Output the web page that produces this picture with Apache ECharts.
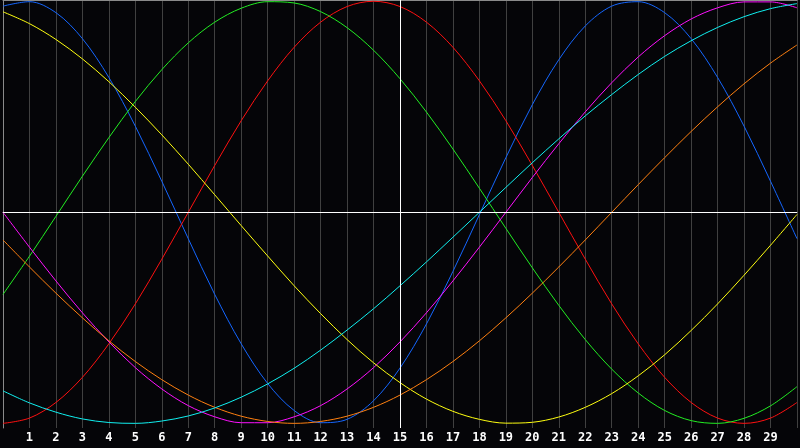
<!DOCTYPE html>
<html>
<head>
<meta charset="utf-8">
<script src="https://cdn.jsdelivr.net/npm/echarts@6/dist/echarts.min.js"></script>
<style>
html,body{margin:0;padding:0;background:#050508;}
#chart{width:800px;height:448px;}
</style>
</head>
<body>
<div id="chart"></div>
<script>
const days = [0,1,2,3,4,5,6,7,8,9,10,11,12,13,14,15,16,17,18,19,20,21,22,23,24,25,26,27,28,29,30];
const tickLabels = ['1','2','3','4','5','6','7','8','9','10','11','12','13','14','15','16','17','18','19','20','21','22','23','24','25','26','27','28','29'];

const physical = [97.7,99.8,94.6,82.3,63.9,40.8,14.7,-12.5,-38.9,-62.3,-81.1,-93.9,-99.7,-98.1,-89.3,-73.8,-52.9,-28.0,-1.1,25.9,51.0,72.3,88.3,97.7,99.8,94.6,82.3,63.9,40.8,14.7,-12.5];
const emotional = [-100,-97.5,-90.1,-78.2,-62.3,-43.4,-22.2,0,22.2,43.4,62.3,78.2,90.1,97.5,100,97.5,90.1,78.2,62.3,43.4,22.2,0,-22.2,-43.4,-62.3,-78.2,-90.1,-97.5,-100,-97.5,-90.1];
const intellectual = [-38.9,-20.8,-1.9,17.1,35.4,52.5,67.6,80.3,90.1,96.7,99.8,99.2,95.1,87.5,76.8,63.3,47.5,30.0,11.4,-7.6,-26.3,-44.1,-60.3,-74.3,-85.6,-93.9,-98.7,-100.0,-97.6,-91.7,-82.6];
const intuitive = [0,-16.5,-32.5,-47.6,-61.4,-73.6,-83.7,-91.6,-96.9,-99.7,-99.7,-96.9,-91.6,-83.7,-73.6,-61.4,-47.6,-32.5,-16.5,0,16.5,32.5,47.6,61.4,73.6,83.7,91.6,96.9,99.7,99.7,96.9];
const aesthetic = [95.0,89.4,81.9,72.7,61.9,49.8,36.7,22.8,8.3,-6.3,-20.7,-34.8,-48.0,-60.3,-71.3,-80.7,-88.5,-94.3,-98.1,-99.9,-99.5,-97.0,-92.4,-85.9,-77.5,-67.5,-56.0,-43.4,-29.8,-15.6,-1.0];
const awareness = [-13.1,-25.9,-38.3,-50.0,-60.9,-70.7,-79.3,-86.6,-92.4,-96.6,-99.1,-100,-99.1,-96.6,-92.4,-86.6,-79.3,-70.7,-60.9,-50.0,-38.3,-25.9,-13.1,0,13.1,25.9,38.3,50.0,60.9,70.7,79.3];
const spiritual = [-84.6,-90.3,-94.7,-97.9,-99.6,-100.0,-98.9,-96.5,-92.7,-87.6,-81.3,-73.9,-65.3,-55.8,-45.7,-34.8,-23.5,-11.8,0,11.8,23.5,34.8,45.7,55.8,65.3,73.9,81.3,87.6,92.7,96.5,98.9];

const seriesDefs = [
  {name:'Physical', data: physical, color:'#1466ff'},
  {name:'Emotional', data: emotional, color:'#ff1010'},
  {name:'Intellectual', data: intellectual, color:'#22ee22'},
  {name:'Intuitive', data: intuitive, color:'#ff10ff'},
  {name:'Aesthetic', data: aesthetic, color:'#ffff10'},
  {name:'Awareness', data: awareness, color:'#ff8010'},
  {name:'Spiritual', data: spiritual, color:'#10f0f0'}
];

const chart = echarts.init(document.getElementById('chart'));
const series = seriesDefs.map((s) => ({
  name: s.name,
  type: 'line',
  smooth: 0.33,
  showSymbol: false,
  animation: false,
  silent: true,
  data: days.map((d, k) => [d, s.data[k]]),
  lineStyle: {width: 1, color: s.color},
  itemStyle: {color: s.color},
  z: 3
}));
series.push({
  type: 'line',
  data: [],
  silent: true,
  animation: false,
  markLine: {
    symbol: 'none',
    silent: true,
    animation: false,
    label: {show: false},
    lineStyle: {color: '#ffffff', width: 1, type: 'solid'},
    data: [{xAxis: 15}, {yAxis: 0}]
  },
  z: 2
});

chart.setOption({
  backgroundColor: '#050508',
  animation: false,
  grid: {left: 0, right: 0, top: 0, bottom: 20, containLabel: false},
  xAxis: [{
    type: 'value',
    min: 0,
    max: 30,
    interval: 1,
    axisLine: {show: true, lineStyle: {color: '#a0a0a0', width: 1}},
    axisTick: {show: false},
    splitLine: {show: true, lineStyle: {color: '#404040', width: 1}},
    axisLabel: {
      color: '#ffffff',
      fontFamily: 'DejaVu Sans Mono',
      fontWeight: 'bold',
      fontSize: 12,
      margin: 4,
      formatter: function (v) {
        const idx = tickLabels.indexOf(String(v));
        return idx >= 0 ? tickLabels[idx] : '';
      }
    }
  }, {
    type: 'value',
    position: 'top',
    min: 0,
    max: 30,
    axisLine: {show: true, lineStyle: {color: '#8a8a8a', width: 1}},
    axisTick: {show: false},
    axisLabel: {show: false},
    splitLine: {show: false}
  }],
  yAxis: {
    type: 'value',
    min: -102.2,
    max: 100.6,
    axisLine: {show: true, lineStyle: {color: '#8a8a8a', width: 1}},
    axisTick: {show: false},
    axisLabel: {show: false},
    splitLine: {show: false}
  },
  series: series
});
</script>
</body>
</html>
